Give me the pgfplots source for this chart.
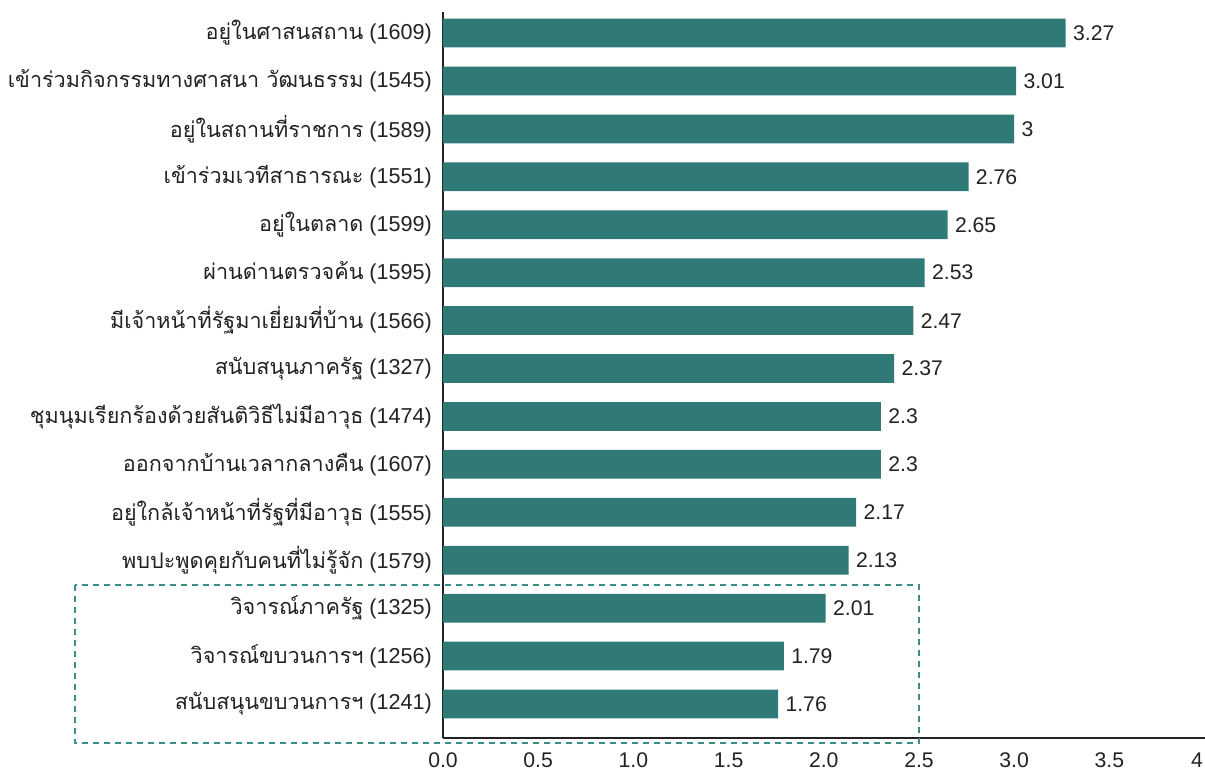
\documentclass[border=0pt]{standalone}
\usepackage{pgfplots}
\usepackage{pgfplotstable}
\pgfplotsset{compat=1.18}
\usepackage{fontspec}
\setmainfont{Liberation Sans}
\newfontfamily\thaifont[Script=Thai]{Loma}
\definecolor{barteal}{RGB}{47,122,118}
\definecolor{boxteal}{RGB}{58,143,138}
\definecolor{txt}{RGB}{34,34,34}
\pgfplotstableread[col sep=comma]{
y,v,lab
0,1.76,1.76
1,1.79,1.79
2,2.01,2.01
3,2.13,2.13
4,2.17,2.17
5,2.3,2.3
6,2.3,2.3
7,2.37,2.37
8,2.47,2.47
9,2.53,2.53
10,2.65,2.65
11,2.76,2.76
12,3,3
13,3.01,3.01
14,3.27,3.27
}\datatable
\begin{document}
\begin{tikzpicture}
\begin{axis}[
  scale only axis,
  width=380.8pt, height=363pt,
  xmin=0, xmax=4, ymin=-0.71, ymax=14.44,
  axis lines*=left,
  axis line style={-, draw=txt, line width=0.7pt},
  major tick length=0pt,
  xtick={0,0.5,1,1.5,2,2.5,3,3.5,4},
  xticklabels={0.0,0.5,1.0,1.5,2.0,2.5,3.0,3.5,{\hbox to 0pt{\hss 4\hskip0.8pt}}},
  ytick={0,...,14},
  yticklabels={
    {{\thaifont สนับสนุนขบวนการฯ} (1241)},
    {{\thaifont วิจารณ์ขบวนการฯ} (1256)},
    {{\thaifont วิจารณ์ภาครัฐ} (1325)},
    {{\thaifont พบปะพูดคุยกับคนที่ไม่รู้จัก} (1579)},
    {{\thaifont อยู่ใกล้เจ้าหน้าที่รัฐที่มีอาวุธ} (1555)},
    {{\thaifont ออกจากบ้านเวลากลางคืน} (1607)},
    {{\thaifont ชุมนุมเรียกร้องด้วยสันติวิธีไม่มีอาวุธ} (1474)},
    {{\thaifont สนับสนุนภาครัฐ} (1327)},
    {{\thaifont มีเจ้าหน้าที่รัฐมาเยี่ยมที่บ้าน} (1566)},
    {{\thaifont ผ่านด่านตรวจค้น} (1595)},
    {{\thaifont อยู่ในตลาด} (1599)},
    {{\thaifont เข้าร่วมเวทีสาธารณะ} (1551)},
    {{\thaifont อยู่ในสถานที่ราชการ} (1589)},
    {{\thaifont เข้าร่วมกิจกรรมทางศาสนา วัฒนธรรม} (1545)},
    {{\thaifont อยู่ในศาสนสถาน} (1609)}
  },
  ticklabel style={font=\fontsize{10.6}{12.5}\selectfont, text=txt},
  yticklabel style={xshift=-2pt, font=\fontsize{10.8}{12.5}\selectfont},
  xticklabel style={yshift=-4pt},
  clip=false,
]
\addplot[xbar, bar width=0.6, fill=barteal, draw=none,
  nodes near coords, point meta=explicit symbolic,
  nodes near coords style={anchor=west, xshift=0.2pt, font=\fontsize{10.6}{12.5}\selectfont, text=txt}]
  table[x=v, y=y, meta=lab]{\datatable};
\draw[boxteal, line width=0.75pt, dash pattern=on 3pt off 2.5pt]
  (axis cs:-1.934,2.48) rectangle (axis cs:2.5,-0.81);
\coordinate (ll) at (rel axis cs:0,0);
\coordinate (ur) at (rel axis cs:1,1);
\end{axis}
\pgfresetboundingbox
\path[use as bounding box] ([xshift=-221.5pt,yshift=-16pt]ll) rectangle ([xshift=0.2pt,yshift=6pt]ur);
\end{tikzpicture}
\end{document}
